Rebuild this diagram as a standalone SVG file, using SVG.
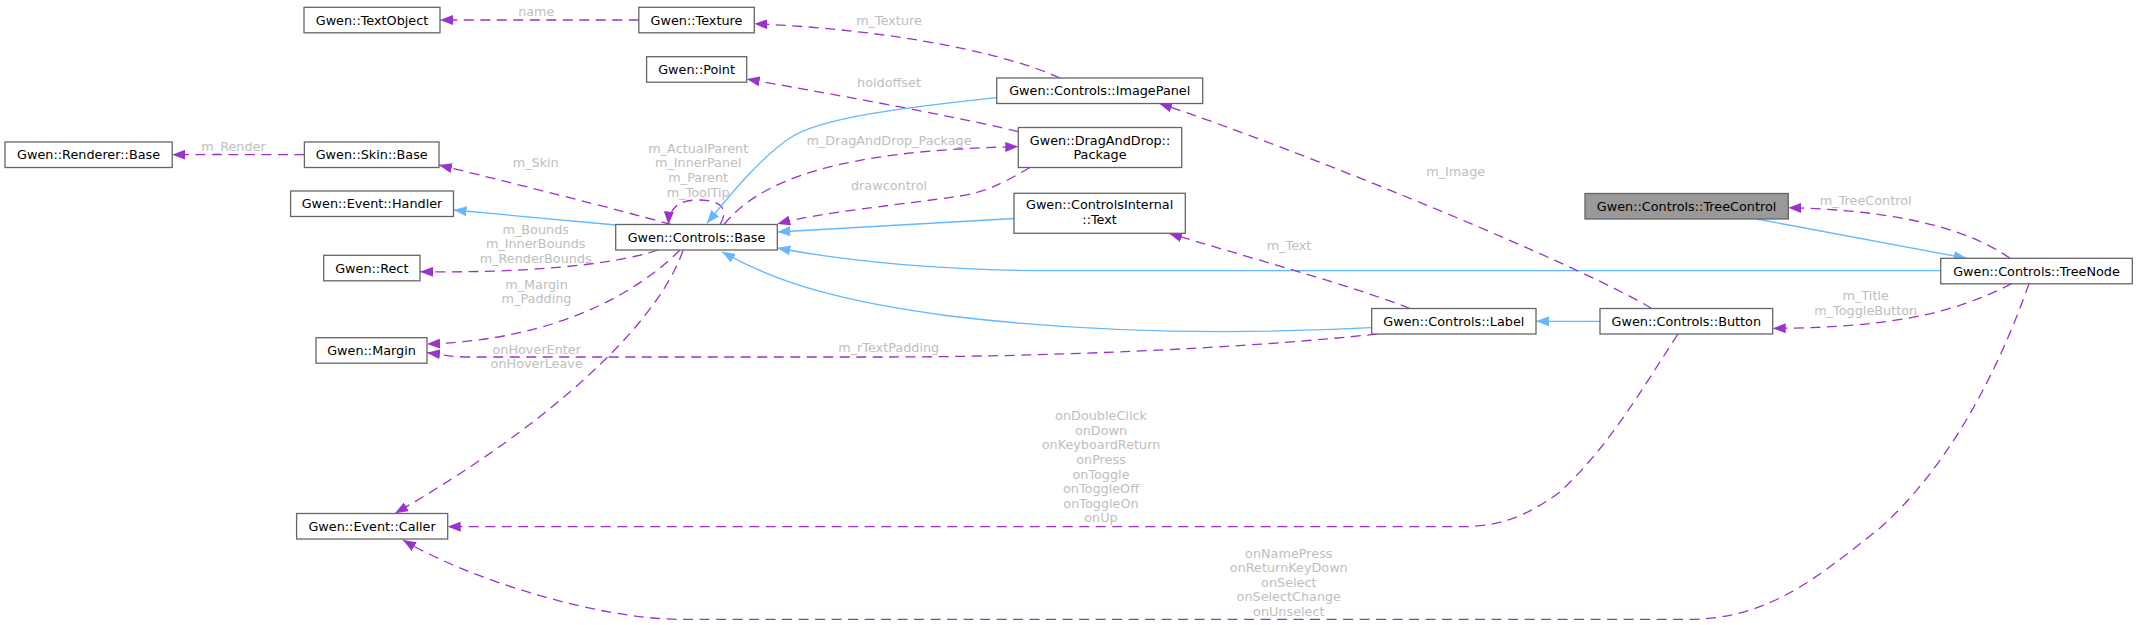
<svg xmlns="http://www.w3.org/2000/svg" width="2137" height="625" viewBox="0 0 2137 625">
<defs>
<style>
.n rect{fill:#fff;stroke:#666;stroke-width:1.3}
.n.g rect{fill:#999}
.t{font-family:"DejaVu Sans",sans-serif;font-size:12.8px;fill:#000;text-anchor:middle}
.l{font-family:"DejaVu Sans",sans-serif;font-size:12.8px;fill:#bebebe;text-anchor:middle}
.d{fill:none;stroke:#9a32cd;stroke-width:1.3;stroke-dasharray:10,6.5;marker-end:url(#ap)}
.i{fill:none;stroke:#63b8ff;stroke-width:1.3;marker-end:url(#ab)}
</style>
<marker id="ap" viewBox="0 0 13 10" refX="13" refY="5" markerWidth="13" markerHeight="10" markerUnits="userSpaceOnUse" orient="auto"><path d="M0,0 L13,5 L0,10 z" fill="#9a32cd"/></marker>
<marker id="ab" viewBox="0 0 13 10" refX="13" refY="5" markerWidth="13" markerHeight="10" markerUnits="userSpaceOnUse" orient="auto"><path d="M0,0 L13,5 L0,10 z" fill="#63b8ff"/></marker>
</defs>
<rect width="2137" height="625" fill="#fff"/>
<g id="edges">
<path class="d" d="M638.8,20 H440"/>
<text class="l" x="536.3" y="16">name</text>
<path class="d" d="M304.4,154.7 H172.2"/>
<text class="l" x="233.5" y="151.2">m_Render</text>
<path class="d" d="M671,224.5 C620,210 500,180 439,165"/>
<text class="l" x="535.7" y="167.2">m_Skin</text>
<path class="i" d="M616,225 L453.5,210"/>
<path class="d" d="M658,250 C610,266 520,273 420,271.7"/>
<text class="l" x="535.7" y="233.5">m_Bounds</text>
<text class="l" x="535.7" y="248.1">m_InnerBounds</text>
<text class="l" x="535.7" y="262.7">m_RenderBounds</text>
<path class="d" d="M680,250 C640,290 560,340 427,344"/>
<text class="l" x="536.5" y="288.5">m_Margin</text>
<text class="l" x="536.5" y="303.1">m_Padding</text>
<path class="d" d="M1377,334 C1250,348 1050,357 880,357 L470,357 C450,357 438,354 427,352.7"/>
<text class="l" x="888.7" y="351.5">m_rTextPadding</text>
<path class="d" d="M683,250.5 C655,330 540,430 395,513.3"/>
<text class="l" x="536.7" y="353.5">onHoverEnter</text>
<text class="l" x="536.7" y="368.1">onHoverLeave</text>
<path class="d" d="M1678,334 C1640,392 1610,445 1560,492 C1525,517 1500,526.7 1460,526.7 L447.7,526.7"/>
<text class="l" x="1101" y="420.2">onDoubleClick</text>
<text class="l" x="1101" y="434.8">onDown</text>
<text class="l" x="1101" y="449.4">onKeyboardReturn</text>
<text class="l" x="1101" y="464">onPress</text>
<text class="l" x="1101" y="478.6">onToggle</text>
<text class="l" x="1101" y="493.2">onToggleOff</text>
<text class="l" x="1101" y="507.8">onToggleOn</text>
<text class="l" x="1101" y="522.4">onUp</text>
<path class="d" d="M2029,283.7 C1995,380 1945,470 1880,528 C1820,575 1770,619.3 1690,619.3 L680,619.3 C600,619.3 470,580 403,540"/>
<text class="l" x="1288.8" y="557.5">onNamePress</text>
<text class="l" x="1288.8" y="572.1">onReturnKeyDown</text>
<text class="l" x="1288.8" y="586.7">onSelect</text>
<text class="l" x="1288.8" y="601.3">onSelectChange</text>
<text class="l" x="1288.8" y="615.9">onUnselect</text>
<path class="d" d="M720,224.5 C728,212 725,200 698,200 C680,200 669,207 668.5,224.5"/>
<text class="l" x="698.2" y="152.8">m_ActualParent</text>
<text class="l" x="698.2" y="167.4">m_InnerPanel</text>
<text class="l" x="698.2" y="182">m_Parent</text>
<text class="l" x="698.2" y="196.6">m_ToolTip</text>
<path class="d" d="M724,224.5 C760,180 840,150 1018.3,146.7"/>
<text class="l" x="889" y="145.2">m_DragAndDrop_Package</text>
<path class="d" d="M1018.3,131.7 C950,115 820,92 746.7,79"/>
<text class="l" x="889" y="86.5">holdoffset</text>
<path class="d" d="M1030,167.5 C1000,185 985,192 960,196 C900,205 820,212 777.3,224"/>
<text class="l" x="889" y="189.5">drawcontrol</text>
<path class="d" d="M1060,78 C1010,55 900,30 754.3,23.7"/>
<text class="l" x="889" y="24.5">m_Texture</text>
<path class="i" d="M996.7,97.7 C900,108 820,118 790,138 C760,158 730,195 707,223.3"/>
<path class="i" d="M1014,218.5 L777.3,232"/>
<path class="i" d="M1940.7,270.7 L1050,270.7 C950,270.7 850,262 777.3,248"/>
<path class="i" d="M1371.7,327.7 C1250,334 1100,334 950,316 C850,303 780,285 722,251.7"/>
<path class="d" d="M1410,308.5 C1350,285 1240,255 1169,233.3"/>
<text class="l" x="1289" y="249.5">m_Text</text>
<path class="i" d="M1600,321.3 L1536,321.3"/>
<path class="d" d="M1651.7,308.5 C1580,265 1300,150 1159,103.3"/>
<text class="l" x="1455.7" y="176.2">m_Image</text>
<path class="d" d="M2011.7,283.7 C1960,310 1900,328 1772.7,328.3"/>
<text class="l" x="1865.7" y="300.2">m_Title</text>
<text class="l" x="1865.7" y="314.8">m_ToggleButton</text>
<path class="i" d="M1756.7,219 L1966.7,258.3"/>
<path class="d" d="M2010,258.3 C1970,230 1900,210 1788.3,207.7"/>
<text class="l" x="1865.7" y="204.5">m_TreeControl</text>
</g>
<g id="node-textobject" class="n"><rect x="304" y="7.3" width="136" height="25.5"/><text class="t" x="372" y="24.6">Gwen::TextObject</text></g>
<g id="node-texture" class="n"><rect x="638.8" y="7.3" width="115.5" height="25.5"/><text class="t" x="696.5" y="24.6">Gwen::Texture</text></g>
<g id="node-point" class="n"><rect x="646.6" y="56.7" width="100.1" height="25.5"/><text class="t" x="696.6" y="74">Gwen::Point</text></g>
<g id="node-renderer" class="n"><rect x="5" y="142" width="167.2" height="25.5"/><text class="t" x="88.6" y="159.3">Gwen::Renderer::Base</text></g>
<g id="node-skin" class="n"><rect x="304.4" y="142" width="134.6" height="25.5"/><text class="t" x="371.7" y="159.3">Gwen::Skin::Base</text></g>
<g id="node-handler" class="n"><rect x="290.6" y="191" width="162.9" height="25.5"/><text class="t" x="372" y="208.3">Gwen::Event::Handler</text></g>
<g id="node-rect" class="n"><rect x="323.7" y="255.3" width="96.3" height="25.5"/><text class="t" x="371.8" y="272.6">Gwen::Rect</text></g>
<g id="node-margin" class="n"><rect x="316" y="337.7" width="111" height="25.5"/><text class="t" x="371.5" y="355">Gwen::Margin</text></g>
<g id="node-caller" class="n"><rect x="296.6" y="513.5" width="151.1" height="25.5"/><text class="t" x="372.1" y="530.8">Gwen::Event::Caller</text></g>
<g id="node-base" class="n"><rect x="615.7" y="224.5" width="161.6" height="25.5"/><text class="t" x="696.5" y="241.8">Gwen::Controls::Base</text></g>
<g id="node-imagepanel" class="n"><rect x="996.7" y="78" width="206" height="25.5"/><text class="t" x="1099.7" y="95.3">Gwen::Controls::ImagePanel</text></g>
<g id="node-package" class="n"><rect x="1018.3" y="127.5" width="163.4" height="40"/><text class="t" x="1100" y="144.5">Gwen::DragAndDrop::</text><text class="t" x="1100" y="159">Package</text></g>
<g id="node-text" class="n"><rect x="1014" y="193.3" width="171.3" height="40"/><text class="t" x="1099.6" y="208.8">Gwen::ControlsInternal</text><text class="t" x="1099.6" y="223.6">::Text</text></g>
<g id="node-treecontrol" class="n g"><rect x="1585" y="193.5" width="203.3" height="25.5"/><text class="t" x="1686.6" y="210.8">Gwen::Controls::TreeControl</text></g>
<g id="node-treenode" class="n"><rect x="1940.7" y="258.3" width="191.6" height="25.5"/><text class="t" x="2036.5" y="275.6">Gwen::Controls::TreeNode</text></g>
<g id="node-label" class="n"><rect x="1371.7" y="308.5" width="164.3" height="25.5"/><text class="t" x="1453.8" y="325.8">Gwen::Controls::Label</text></g>
<g id="node-button" class="n"><rect x="1600" y="308.5" width="172.7" height="25.5"/><text class="t" x="1686.3" y="325.8">Gwen::Controls::Button</text></g>
</svg>
